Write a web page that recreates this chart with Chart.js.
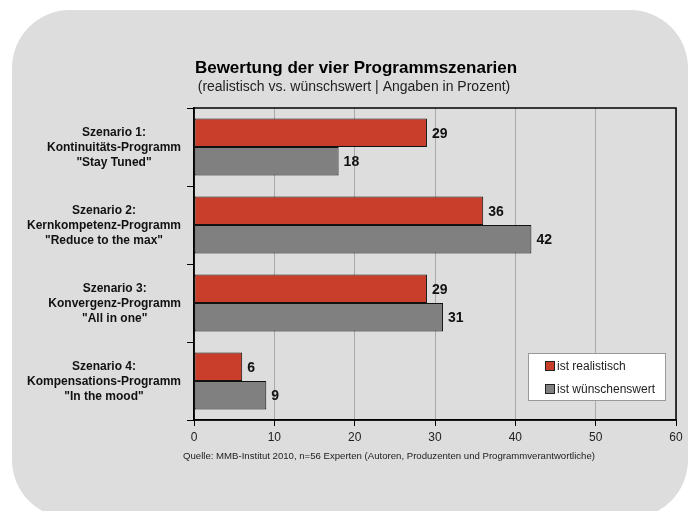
<!DOCTYPE html>
<html>
<head>
    <title>Bewertung der vier Programmszenarien</title>
    <script src="https://cdn.jsdelivr.net/npm/chart.js"></script>
    <style>
        html, body {
            margin: 0;
            padding: 0;
            background-color: #ffffff;
            overflow: hidden;
        }
        .panel {
            position: absolute;
            left: 12px;
            top: 10px;
            width: 676px;
            height: 508px;
            border-radius: 58px;
            background-color: #dddddd;
        }
        .chart-container {
            position: absolute;
            left: 0;
            top: 0;
            width: 693px;
            height: 511px;
        }
    </style>
</head>
<body>
    <div class="panel"></div>
    <div class="chart-container">
        <canvas id="scenarioChart"></canvas>
    </div>

    <script>
        const FONT = '"Liberation Sans", Arial, sans-serif';

        const scenarios = [
            ['Szenario 1:', 'Kontinuitäts-Programm', '"Stay Tuned"'],
            ['Szenario 2:', 'Kernkompetenz-Programm', '"Reduce to the max"'],
            ['Szenario 3:', 'Konvergenz-Programm', '"All in one"'],
            ['Szenario 4:', 'Kompensations-Programm', '"In the mood"']
        ];
        const realistisch = [29, 36, 29, 6];
        const wuenschenswert = [18, 42, 31, 9];
        const xTicks = [0, 10, 20, 30, 40, 50, 60];

        const chartTitle = 'Bewertung der vier Programmszenarien';
        const chartSubtitle = '(realistisch vs. wünschswert | Angaben in Prozent)';
        const sourceNote = 'Quelle: MMB-Institut 2010, n=56 Experten (Autoren, Produzenten und Programmverantwortliche)';

        // Texte, Rahmen und Legende direkt auf das Canvas zeichnen
        const decorations = {
            id: 'decorations',
            afterDatasetsDraw(chart) {
                const ctx = chart.ctx;
                const area = chart.chartArea;
                const yScale = chart.scales.y;
                ctx.save();

                // Rahmen um den Plotbereich
                ctx.strokeStyle = '#000';
                ctx.lineWidth = 1.5;
                ctx.strokeRect(area.left, area.top, area.right - area.left, area.bottom - area.top);

                // Werte an den Balken
                ctx.fillStyle = '#111';
                ctx.font = 'bold 14px ' + FONT;
                ctx.textAlign = 'left';
                ctx.textBaseline = 'middle';
                chart.data.datasets.forEach((ds, di) => {
                    chart.getDatasetMeta(di).data.forEach((bar, i) => {
                        ctx.fillText(ds.data[i], bar.x + 5, bar.y + 1);
                    });
                });

                // Kategorienbeschriftung (zentrierte Zeilen, Block rechtsbündig)
                ctx.font = 'bold 12px ' + FONT;
                ctx.textAlign = 'center';
                chart.data.labels.forEach((lines, i) => {
                    const cy = yScale.getPixelForValue(i) + 1;
                    const maxW = Math.max(...lines.map(l => ctx.measureText(l).width));
                    const cx = area.left - 13 - maxW / 2;
                    lines.forEach((l, k) => {
                        ctx.fillText(l, cx, cy + (k - 1) * 15);
                    });
                });

                // Titel, Untertitel, Quelle
                ctx.fillStyle = '#000';
                ctx.font = 'bold 17px ' + FONT;
                ctx.fillText(chartTitle, 356, 68);
                ctx.fillStyle = '#222';
                ctx.font = '14px ' + FONT;
                ctx.fillText(chartSubtitle, 354, 87);
                ctx.font = '9.6px ' + FONT;
                ctx.fillText(sourceNote, 389, 456);

                // Legende
                const lx = 528, ly = 353, lw = 137, lh = 47;
                ctx.fillStyle = '#fff';
                ctx.fillRect(lx, ly, lw, lh);
                ctx.strokeStyle = '#999';
                ctx.lineWidth = 1;
                ctx.strokeRect(lx + 0.5, ly + 0.5, lw, lh);
                ctx.font = '12px ' + FONT;
                ctx.textAlign = 'left';
                chart.data.datasets.forEach((ds, di) => {
                    const yy = ly + 13 + di * 23;
                    ctx.fillStyle = ds.backgroundColor;
                    ctx.fillRect(lx + 17, yy - 5, 10, 10);
                    ctx.strokeStyle = '#222';
                    ctx.strokeRect(lx + 17.5, yy - 4.5, 9, 9);
                    ctx.fillStyle = '#222';
                    ctx.fillText(ds.label, lx + 29, yy + 1);
                });

                ctx.restore();
            }
        };

        const ctx = document.getElementById('scenarioChart').getContext('2d');
        const chart = new Chart(ctx, {
            type: 'bar',
            data: {
                labels: scenarios,
                datasets: [{
                    label: 'ist realistisch',
                    data: realistisch,
                    backgroundColor: '#c93d2b',
                    borderColor: '#111',
                    borderWidth: 1,
                    borderSkipped: false
                }, {
                    label: 'ist wünschenswert',
                    data: wuenschenswert,
                    backgroundColor: '#808080',
                    borderColor: '#111',
                    borderWidth: 1,
                    borderSkipped: false
                }]
            },
            options: {
                indexAxis: 'y',
                responsive: true,
                maintainAspectRatio: false,
                animation: false,
                categoryPercentage: 0.73,
                barPercentage: 1.0,
                layout: {
                    padding: { left: 0, top: 108, right: 17, bottom: 61 }
                },
                scales: {
                    x: {
                        min: 0,
                        max: 60,
                        afterBuildTicks: scale => {
                            scale.ticks = xTicks.map(v => ({ value: v }));
                        },
                        afterFit: scale => { scale.height = 30; },
                        grid: {
                            color: '#a9a9a9',
                            tickColor: '#000',
                            tickLength: 6,
                            lineWidth: 1
                        },
                        border: { color: '#000', width: 1.5 },
                        ticks: {
                            padding: 4,
                            color: '#222',
                            font: { family: FONT, size: 12 }
                        }
                    },
                    y: {
                        offset: true,
                        afterFit: scale => { scale.width = 194; },
                        grid: {
                            offset: true,
                            drawOnChartArea: false,
                            color: '#000',
                            tickLength: 7
                        },
                        border: { color: '#000', width: 1.5 },
                        ticks: { display: false }
                    }
                },
                plugins: {
                    legend: { display: false },
                    tooltip: { enabled: false }
                }
            },
            plugins: [decorations]
        });
    </script>
</body>
</html>
